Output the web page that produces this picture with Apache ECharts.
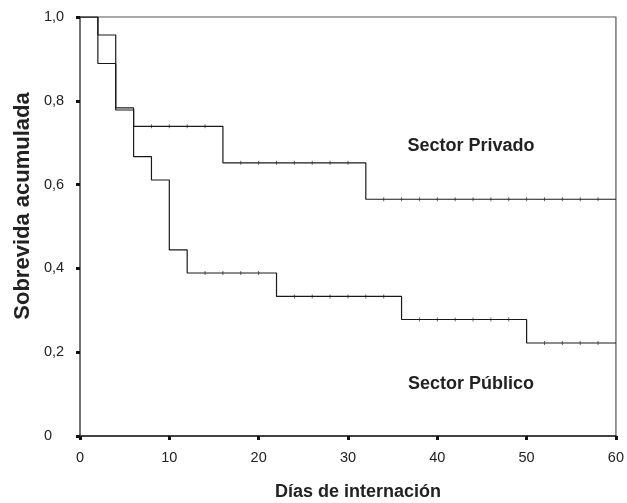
<!DOCTYPE html>
<html>
<head>
<meta charset="utf-8">
<script src="https://cdn.jsdelivr.net/npm/echarts@6/dist/echarts.min.js"></script>
<style>
html,body{margin:0;padding:0;background:#fff;}
#c{width:627px;height:503px;}
</style>
</head>
<body>
<div id="c"></div>
<script>
// Kaplan-Meier steps: [time, survival after event]
var privadoTimes = [0, 2, 4, 6, 16, 32, 60];
var privadoSurv  = [1.0, 0.957, 0.783, 0.739, 0.652, 0.565, 0.565];
var publicoTimes = [0, 2, 4, 6, 8, 10, 12, 22, 36, 50, 60];
var publicoSurv  = [1.0, 0.889, 0.778, 0.667, 0.611, 0.444, 0.389, 0.333, 0.278, 0.222, 0.222];
// censored observations (days)
var privadoCensor = [8, 10, 12, 14, 18, 20, 22, 24, 26, 28, 30, 34, 36, 38, 40, 42, 44, 46, 48, 50, 52, 54, 56, 58];
var publicoCensor = [14, 16, 18, 20, 24, 26, 28, 30, 32, 34, 38, 40, 42, 44, 46, 48, 52, 54, 56, 58];
var xTicks = [0, 10, 20, 30, 40, 50, 60];
var yTicks = [0, 0.2, 0.4, 0.6, 0.8, 1.0];

function pairs(t, s){ return t.map(function(v,i){ return [v, s[i]]; }); }
function survAt(t, times, surv){
  var v = surv[0];
  for (var i=0;i<times.length;i++){ if (times[i] <= t) v = surv[i]; }
  return v;
}
function censorPts(c, times, surv){ return c.map(function(t){ return [t, survAt(t, times, surv)]; }); }

var FF = 'Liberation Sans, Arial, Helvetica, sans-serif';
var chart = echarts.init(document.getElementById('c'), null, {renderer:'canvas'});
var lineColor = '#1a1a1a';
chart.setOption({
  animation:false,
  backgroundColor:'#fff',
  grid:{left:80, right:7, top:17, bottom:67, show:true, borderColor:'#555', borderWidth:1.2},
  xAxis:{
    type:'value', min:xTicks[0], max:xTicks[xTicks.length-1], interval:10,
    axisLine:{show:true, onZero:false, lineStyle:{color:'#222', width:1.5}},
    axisTick:{show:true, length:4, lineStyle:{color:'#111', width:3}},
    axisLabel:{color:'#222', fontSize:14.5, fontFamily:FF, margin:14},
    splitLine:{show:false}
  },
  yAxis:{
    type:'value', min:yTicks[0], max:yTicks[yTicks.length-1], interval:0.2,
    axisLine:{show:true, onZero:false, lineStyle:{color:'#666', width:1.5}},
    axisTick:{show:true, length:4, lineStyle:{color:'#111', width:3}},
    axisLabel:{color:'#222', fontSize:14.5, fontFamily:FF, margin:36, align:'left',
      formatter:function(v){ return v===0 ? '0' : v.toFixed(1).replace('.', ','); }},
    splitLine:{show:false}
  },
  series:[
    {type:'line', step:'end', data:pairs(privadoTimes, privadoSurv), symbol:'none',
     lineStyle:{color:lineColor, width:1.2}},
    {type:'line', step:'end', data:pairs(publicoTimes, publicoSurv), symbol:'none',
     lineStyle:{color:lineColor, width:1.2}},
    {type:'scatter', data:censorPts(privadoCensor, privadoTimes, privadoSurv), symbol:'rect',
     symbolSize:[1,4], itemStyle:{color:'#444'}},
    {type:'scatter', data:censorPts(publicoCensor, publicoTimes, publicoSurv), symbol:'rect',
     symbolSize:[1,4], itemStyle:{color:'#444'}}
  ],
  graphic:[
    {type:'text', x:358, y:492, style:{text:'Días de internación', font:'bold 18px '+FF, fill:'#222', textAlign:'center', textVerticalAlign:'middle'}},
    {type:'text', rotation:Math.PI/2, x:23, y:206, style:{text:'Sobrevida acumulada', font:'bold 22px '+FF, fill:'#222', textAlign:'center', textVerticalAlign:'middle'}},
    {type:'text', x:471, y:146, style:{text:'Sector Privado', font:'bold 18px '+FF, fill:'#222', textAlign:'center', textVerticalAlign:'middle'}},
    {type:'text', x:471, y:384, style:{text:'Sector Público', font:'bold 18px '+FF, fill:'#222', textAlign:'center', textVerticalAlign:'middle'}}
  ]
});
</script>
</body>
</html>
